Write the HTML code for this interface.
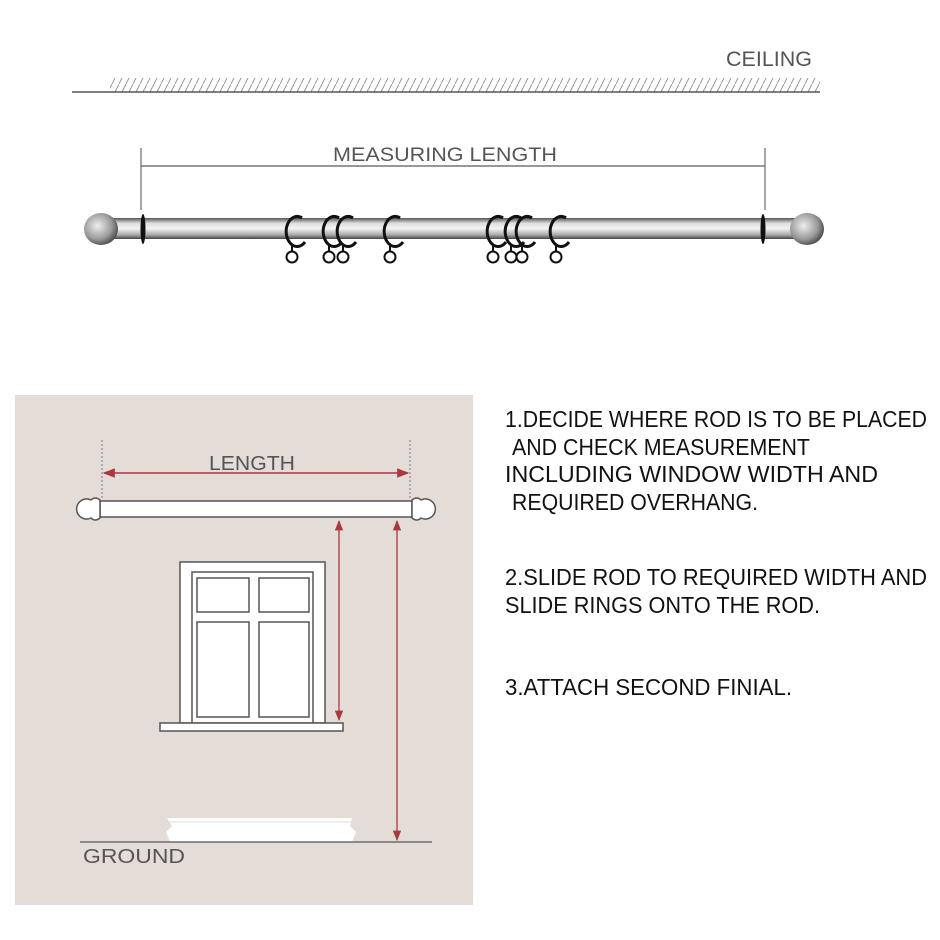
<!DOCTYPE html>
<html><head><meta charset="utf-8"><style>html,body{margin:0;padding:0;background:#fff}svg{display:block}</style></head>
<body>
<svg width="940" height="940" viewBox="0 0 940 940" xmlns="http://www.w3.org/2000/svg" font-family="Liberation Sans, sans-serif">
<defs>
<pattern id="hatch" width="7" height="14" patternUnits="userSpaceOnUse">
<line x1="0" y1="14" x2="7" y2="0" stroke="#999" stroke-width="1"/>
</pattern>
<linearGradient id="rod" x1="0" y1="0" x2="0" y2="1">
<stop offset="0" stop-color="#555"/><stop offset="0.25" stop-color="#ddd"/><stop offset="0.5" stop-color="#f4f4f4"/><stop offset="0.8" stop-color="#aaa"/><stop offset="1" stop-color="#444"/>
</linearGradient>
<radialGradient id="ball" cx="0.4" cy="0.4" r="0.7">
<stop offset="0" stop-color="#eee"/><stop offset="0.6" stop-color="#999"/><stop offset="1" stop-color="#333"/>
</radialGradient>
<marker id="ar" viewBox="0 0 10 10" refX="9" refY="5" markerWidth="8" markerHeight="8" orient="auto-start-reverse"><path d="M0,1 L10,5 L0,9 z" fill="#a83a3e"/></marker>
</defs>
<rect width="940" height="940" fill="#fff"/>
<text x="812" y="66" text-anchor="end" font-size="21" fill="#555" textLength="86" lengthAdjust="spacingAndGlyphs">CEILING</text>
<rect x="110" y="78" width="710" height="14" fill="url(#hatch)"/>
<line x1="72" y1="92" x2="820" y2="92" stroke="#333" stroke-width="1.3"/>
<text x="445" y="161" text-anchor="middle" font-size="19" fill="#555" textLength="224" lengthAdjust="spacingAndGlyphs">MEASURING LENGTH</text>
<line x1="141" y1="166" x2="765" y2="166" stroke="#777" stroke-width="1.5"/>
<line x1="141" y1="148" x2="141" y2="210" stroke="#777" stroke-width="1.3"/>
<line x1="765" y1="148" x2="765" y2="210" stroke="#777" stroke-width="1.3"/>
<rect x="112" y="218" width="684" height="21" fill="url(#rod)"/>
<ellipse cx="101" cy="229" rx="17" ry="16" fill="url(#ball)"/>
<ellipse cx="807" cy="229" rx="17" ry="16" fill="url(#ball)"/>
<ellipse cx="143" cy="229" rx="2.5" ry="15" fill="#111"/>
<ellipse cx="763" cy="229" rx="2.5" ry="15" fill="#111"/>
<g fill="none" stroke="#111" stroke-width="3">
<g id="ring"><path d="M302,218 A11,15 0 1 0 305,242"/><line x1="292" y1="245" x2="292" y2="251" stroke-width="2"/><circle cx="292" cy="257" r="5.5" stroke-width="2"/></g>
<use href="#ring" x="37"/><use href="#ring" x="51"/><use href="#ring" x="98"/>
<use href="#ring" x="201"/><use href="#ring" x="219"/><use href="#ring" x="230"/><use href="#ring" x="264"/>
</g>
<rect x="15" y="395" width="458" height="510" fill="#e3dcd7"/>
<line x1="102" y1="440" x2="102" y2="500" stroke="#777" stroke-dasharray="2,2"/>
<line x1="410" y1="440" x2="410" y2="500" stroke="#777" stroke-dasharray="2,2"/>
<text x="252" y="470" text-anchor="middle" font-size="20" fill="#555" textLength="86" lengthAdjust="spacingAndGlyphs">LENGTH</text>
<line x1="104" y1="473" x2="408" y2="473" stroke="#a83a3e" stroke-width="1.5" marker-start="url(#ar)" marker-end="url(#ar)"/>
<g fill="#fff" stroke="#555" stroke-width="1.5">
<rect x="100" y="501" width="312" height="16"/>
<path d="M100,500 q-5,-4 -9,0 a10,10 0 1 0 0,18 q4,4 9,0 z"/>
<path d="M412,500 q5,-4 9,0 a10,10 0 1 1 0,18 q-4,4 -9,0 z"/>
<rect x="180" y="562" width="145" height="161"/>
<rect x="192" y="572" width="121" height="151"/>
<rect x="197" y="578" width="52" height="34"/>
<rect x="259" y="578" width="50" height="34"/>
<rect x="197" y="622" width="52" height="95"/>
<rect x="259" y="622" width="50" height="95"/>
<rect x="160" y="723" width="183" height="8"/>
</g>
<path d="M167,818 L352,818 L350,826 L356,832 L352,842 L170,842 L166,832 L172,826 Z" fill="#fff"/>
<line x1="167" y1="822" x2="352" y2="822" stroke="#ddd"/>
<line x1="339" y1="521" x2="339" y2="720" stroke="#a83a3e" stroke-width="1.3" marker-start="url(#ar)" marker-end="url(#ar)"/>
<line x1="397" y1="521" x2="397" y2="840" stroke="#a83a3e" stroke-width="1.3" marker-start="url(#ar)" marker-end="url(#ar)"/>
<line x1="80" y1="842" x2="432" y2="842" stroke="#555" stroke-width="1.3"/>
<text x="83" y="863" font-size="20" fill="#555" textLength="102" lengthAdjust="spacingAndGlyphs">GROUND</text>
<g font-size="23" fill="#111">
<text x="505" y="427" textLength="422" lengthAdjust="spacingAndGlyphs">1.DECIDE WHERE ROD IS TO BE PLACED</text>
<text x="512" y="455" textLength="298" lengthAdjust="spacingAndGlyphs">AND CHECK MEASUREMENT</text>
<text x="505" y="482" textLength="373" lengthAdjust="spacingAndGlyphs">INCLUDING WINDOW WIDTH AND</text>
<text x="512" y="510" textLength="246" lengthAdjust="spacingAndGlyphs">REQUIRED OVERHANG.</text>
<text x="505" y="585" textLength="422" lengthAdjust="spacingAndGlyphs">2.SLIDE ROD TO REQUIRED WIDTH AND</text>
<text x="505" y="613" textLength="315" lengthAdjust="spacingAndGlyphs">SLIDE RINGS ONTO THE ROD.</text>
<text x="505" y="695" textLength="287" lengthAdjust="spacingAndGlyphs">3.ATTACH SECOND FINIAL.</text>
</g>
</svg>
</body></html>
